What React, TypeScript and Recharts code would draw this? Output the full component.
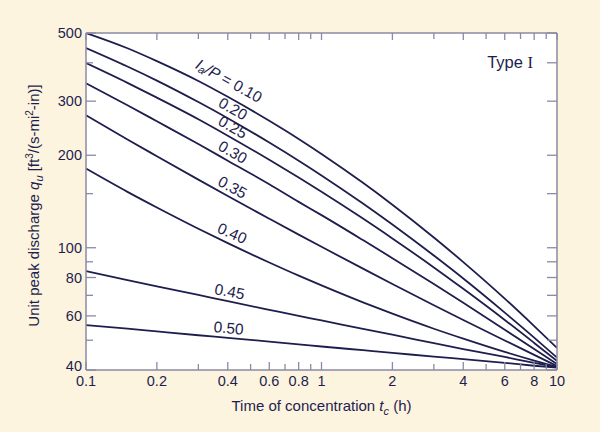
import React from 'react';
import { LineChart, Line, XAxis, YAxis, CartesianGrid, ReferenceDot } from 'recharts';

// Type I peak discharge curves

const tcValues = [0.1, 0.15, 0.2, 0.3, 0.4, 0.6, 0.8, 1, 1.5, 2, 3, 4, 6, 8, 10];

const q010 = [500, 446, 405, 349, 310, 259, 226, 202, 162.7, 138.1, 108, 89.8, 68.3, 55.6, 47.2];
const q020 = [447, 389, 350, 298, 264, 220, 192, 172, 139.3, 119, 94.3, 79.4, 61.5, 51, 43.9];
const q025 = [399, 344, 308, 262, 231.6, 193.3, 169.2, 152.1, 124.4, 107.2, 86.3, 73.5, 58.2, 49, 42.8];
const q030 = [343, 291, 258, 217.5, 192, 161, 141, 127.7, 105.9, 92.5, 76.2, 66.2, 54.1, 46.8, 41.8];
const q035 = [270, 225, 198.5, 166.6, 147.4, 124.3, 110.3, 100.7, 85.5, 76.2, 65, 58.2, 49.9, 44.8, 41.2];
const q040 = [181, 152, 135.2, 115.3, 103.5, 89.5, 81.1, 75.4, 66.4, 61, 54.5, 50.6, 45.8, 42.9, 40.9];
const q045 = [84, 78.5, 74.9, 70.2, 67, 62.8, 60, 58, 54.4, 52.1, 48.9, 46.8, 44.1, 42.2, 40.9];
const q050 = [56, 54.5, 53.4, 51.9, 50.9, 49.5, 48.5, 47.7, 46.4, 45.5, 44.2, 43.4, 42.2, 41.3, 40.7];

const ratioLabels = ['0.10', '0.20', '0.25', '0.30', '0.35', '0.40', '0.45', '0.50'];
const seriesKeys = ['r10', 'r20', 'r25', 'r30', 'r35', 'r40', 'r45', 'r50'];
const seriesValues = [q010, q020, q025, q030, q035, q040, q045, q050];

// where each curve label sits (tc, q on the curve)
const labelTc = [0.38, 0.4, 0.4, 0.4, 0.4, 0.4, 0.4, 0.4];
const labelQ = [320, 264, 231.6, 192, 147.4, 103.5, 67, 50.9];

const xTicks = [0.1, 0.2, 0.3, 0.4, 0.5, 0.6, 0.7, 0.8, 0.9, 1, 2, 3, 4, 5, 6, 7, 8, 9, 10];
const xTickLabels = [0.1, 0.2, 0.4, 0.6, 0.8, 1, 2, 4, 6, 8, 10];
const yTicks = [40, 50, 60, 70, 80, 90, 100, 150, 200, 300, 400, 500];
const yTickLabels = [40, 60, 80, 100, 200, 300, 500];

const rows = tcValues.map((tc, i) => {
  const row: Record<string, number> = { tc };
  seriesKeys.forEach((k, s) => {
    row[k] = seriesValues[s][i];
  });
  return row;
});

const ink = '#1e1e4e';
const frame = '#8a8aa6';
const paper = '#fdf4e0';
const font = '"Liberation Sans", Arial, Helvetica, sans-serif';

const labelAngles = [29, 29.5, 29.5, 29.5, 28.5, 24, 11, 5];
const labelOffsets = [14, 11, 10, 10, 10, 11, 10, 10];

const BottomTick = (props: any) => {
  const { x, y, payload } = props;
  const v = payload.value;
  const major = xTickLabels.includes(v);
  return (
    <g>
      <line x1={x} y1={y} x2={x} y2={y - (major ? 8 : 6)} stroke={frame} strokeWidth={1.3} />
      {major && (
        <text x={x} y={y + 16} textAnchor="middle" fill={ink} fontSize={14.5} fontFamily={font}>
          {String(v)}
        </text>
      )}
    </g>
  );
};

const TopTick = (props: any) => {
  const { x, y, payload } = props;
  const major = xTickLabels.includes(payload.value);
  return <line x1={x} y1={y} x2={x} y2={y + (major ? 7 : 6)} stroke={frame} strokeWidth={1.3} />;
};

const LeftTick = (props: any) => {
  const { x, y, payload } = props;
  const v = payload.value;
  const major = yTickLabels.includes(v);
  // the bottom label is nudged up so it clears the 0.1 of the x axis
  const shift = v === 40 ? -4 : 0;
  return (
    <g>
      <line x1={x} y1={y} x2={x + (major ? 10 : 7)} y2={y} stroke={frame} strokeWidth={1.3} />
      {major && (
        <text x={x - 4} y={y + 5 + shift} textAnchor="end" fill={ink} fontSize={14.5} fontFamily={font}>
          {String(v)}
        </text>
      )}
    </g>
  );
};

const RightTick = (props: any) => {
  const { x, y } = props;
  return <line x1={x} y1={y} x2={x - 10} y2={y} stroke={frame} strokeWidth={1.3} />;
};

const XTitle = (props: any) => {
  const { viewBox } = props;
  const cx = viewBox.x + viewBox.width / 2;
  return (
    <text x={cx} y={viewBox.y + 41} textAnchor="middle" fill={ink} fontSize={15} fontFamily={font}>
      <tspan>Time of concentration </tspan>
      <tspan fontStyle="italic">t</tspan>
      <tspan fontStyle="italic" fontSize={11} dy={4}>c</tspan>
      <tspan dy={-4}> (h)</tspan>
    </text>
  );
};

const YTitle = (props: any) => {
  const { viewBox } = props;
  const cx = viewBox.x + 39;
  const cy = viewBox.y + viewBox.height / 2 + 4;
  return (
    <text
      x={cx}
      y={cy}
      transform={`rotate(-90, ${cx}, ${cy})`}
      textAnchor="middle"
      fill={ink}
      fontSize={15}
      fontFamily={font}
    >
      <tspan>Unit peak discharge </tspan>
      <tspan fontStyle="italic">q</tspan>
      <tspan fontStyle="italic" fontSize={11} dy={4}>u</tspan>
      <tspan dy={-4}> [ft</tspan>
      <tspan fontSize={10} dy={-6}>3</tspan>
      <tspan dy={6}>/(s-mi</tspan>
      <tspan fontSize={10} dy={-6}>2</tspan>
      <tspan dy={6}>-in)]</tspan>
    </text>
  );
};

const makeCurveLabel = (idx: number) => (props: any) => {
  const { viewBox } = props;
  const cx = viewBox.x + (viewBox.width || 0) / 2;
  const cy = viewBox.y + (viewBox.height || 0) / 2;
  const angle = labelAngles[idx];
  const off = labelOffsets[idx];
  return (
    <text
      transform={`translate(${cx}, ${cy}) rotate(${angle}) translate(0, ${-off})`}
      textAnchor="middle"
      dominantBaseline="central"
      fill={ink}
      fontSize={15.5}
      fontFamily={font}
    >
      {idx === 0 ? (
        <>
          <tspan fontStyle="italic">I</tspan>
          <tspan fontStyle="italic" fontSize={11} dy={4}>a</tspan>
          <tspan fontStyle="italic" dy={-4}>/P</tspan>
          <tspan> = {ratioLabels[idx]}</tspan>
        </>
      ) : (
        ratioLabels[idx]
      )}
    </text>
  );
};

const TypeLabel = (props: any) => {
  const { viewBox } = props;
  return (
    <text x={viewBox.x - 24} y={viewBox.y + 35} textAnchor="end" fill={ink} fontSize={16.5} fontFamily={font}>
      <tspan>Type </tspan>
      <tspan fontFamily='"Liberation Serif", "Times New Roman", serif'>I</tspan>
    </text>
  );
};

export default function App() {
  return (
    <div style={{ position: 'absolute', left: 0, top: 0, width: 600, height: 432, background: paper }}>
      <LineChart width={600} height={432} data={rows} margin={{ top: 0, right: 0, bottom: 0, left: 0 }}>
        <CartesianGrid xAxisId="b" yAxisId="l" horizontal={false} vertical={false} fill="#ffffff" fillOpacity={1} />
        <XAxis
          xAxisId="b"
          dataKey="tc"
          type="number"
          scale="log"
          domain={[0.1, 10]}
          allowDataOverflow
          ticks={xTicks}
          interval={0}
          tickSize={0}
          tickMargin={0}
          tickLine={false}
          height={62}
          axisLine={{ stroke: frame, strokeWidth: 1.5 }}
          tick={<BottomTick />}
          label={{ content: <XTitle /> }}
        />
        <XAxis
          xAxisId="t"
          orientation="top"
          dataKey="tc"
          type="number"
          scale="log"
          domain={[0.1, 10]}
          allowDataOverflow
          ticks={xTicks}
          interval={0}
          tickSize={0}
          tickMargin={0}
          tickLine={false}
          height={33}
          axisLine={{ stroke: frame, strokeWidth: 1.5 }}
          tick={<TopTick />}
        />
        <YAxis
          yAxisId="l"
          type="number"
          scale="log"
          domain={[40, 500]}
          allowDataOverflow
          ticks={yTicks}
          interval={0}
          tickSize={0}
          tickMargin={0}
          tickLine={false}
          width={86}
          axisLine={{ stroke: frame, strokeWidth: 1.5 }}
          tick={<LeftTick />}
          label={{ content: <YTitle /> }}
        />
        <YAxis
          yAxisId="r"
          orientation="right"
          type="number"
          scale="log"
          domain={[40, 500]}
          allowDataOverflow
          ticks={yTicks}
          interval={0}
          tickSize={0}
          tickMargin={0}
          tickLine={false}
          width={43}
          axisLine={{ stroke: frame, strokeWidth: 1.5 }}
          tick={<RightTick />}
        />
        {seriesKeys.map((k) => (
          <Line
            key={k}
            xAxisId="b"
            yAxisId="l"
            dataKey={k}
            type="monotone"
            stroke={ink}
            strokeWidth={1.8}
            dot={false}
            activeDot={false}
            isAnimationActive={false}
          />
        ))}
        {/* invisible series so the top/right frame axes get a domain */}
        <Line
          xAxisId="t"
          yAxisId="r"
          dataKey="r50"
          stroke="none"
          dot={false}
          activeDot={false}
          isAnimationActive={false}
          legendType="none"
        />
        {ratioLabels.map((_, i) => (
          <ReferenceDot
            key={'lbl' + i}
            xAxisId="b"
            yAxisId="l"
            x={labelTc[i]}
            y={labelQ[i]}
            r={0}
            fill="none"
            stroke="none"
            label={{ content: makeCurveLabel(i) }}
          />
        ))}
        <ReferenceDot
          xAxisId="b"
          yAxisId="l"
          x={10}
          y={500}
          r={0}
          fill="none"
          stroke="none"
          label={{ content: <TypeLabel /> }}
        />
      </LineChart>
    </div>
  );
}
